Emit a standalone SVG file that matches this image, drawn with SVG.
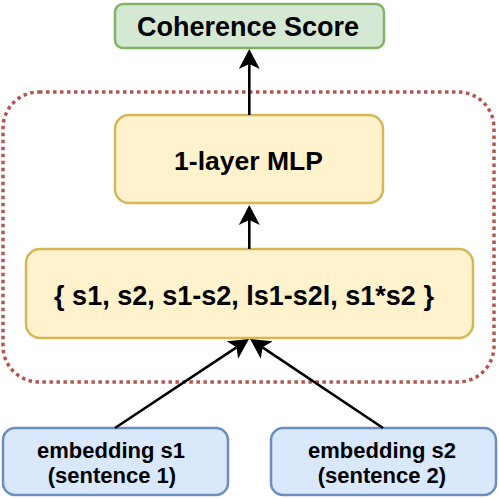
<svg xmlns="http://www.w3.org/2000/svg" width="499" height="499" viewBox="0 0 499 499">
<style>
text{font-family:"Liberation Sans",Arial,sans-serif;font-weight:bold;fill:#000;text-anchor:middle}
.green{fill:#d5e8d4;stroke:#82b366;stroke-width:2.5}
.yellow{fill:#fff2cc;stroke:#d6b656;stroke-width:2.5}
.blue{fill:#dae8fc;stroke:#6c8ebf;stroke-width:2.5}
.edge{stroke:#000;stroke-width:2.6;fill:none;marker-end:url(#arr)}
</style>
<defs>
<marker id="arr" markerUnits="userSpaceOnUse" viewBox="0 0 20 22" markerWidth="20" markerHeight="22" refX="5" refY="11" orient="auto">
<path d="M20,11 L0,0.5 L5,11 L0,21.5 Z" fill="#000"/>
</marker>
</defs>
<g id="container">
<rect x="3" y="92" width="491" height="290" rx="36" fill="none" stroke="#b85450" stroke-width="3.5" stroke-dasharray="3.5 3.5"/>
</g>
<g id="coherence">
<rect class="green" x="115" y="4" width="269" height="44" rx="8"/>
<text x="248" y="36" font-size="27">Coherence Score</text>
</g>
<g id="mlp">
<rect class="yellow" x="115" y="115" width="268" height="88" rx="14"/>
<text x="248.5" y="170" font-size="26.5">1-layer MLP</text>
</g>
<g id="features">
<rect class="yellow" x="26" y="249" width="447" height="89" rx="14"/>
<text x="244" y="305" font-size="27">{ s1, s2, s1-s2, ls1-s2l, s1*s2 }</text>
</g>
<g id="emb1">
<rect class="blue" x="3" y="428" width="225" height="67" rx="12"/>
<text x="111" y="458" font-size="22">embedding s1</text>
<text x="112" y="483" font-size="22">(sentence 1)</text>
</g>
<g id="emb2">
<rect class="blue" x="271" y="428" width="225" height="67" rx="12"/>
<text x="382" y="458" font-size="22">embedding s2</text>
<text x="382" y="483" font-size="22">(sentence 2)</text>
</g>
<g id="connectors">
<line class="edge" x1="249.3" y1="115" x2="249.3" y2="64"/>
<line class="edge" x1="249.3" y1="249" x2="249.3" y2="220"/>
<line class="edge" x1="115" y1="428" x2="236.5" y2="347.3"/>
<line class="edge" x1="383" y1="428" x2="262.5" y2="347.3"/>
</g>
</svg>
